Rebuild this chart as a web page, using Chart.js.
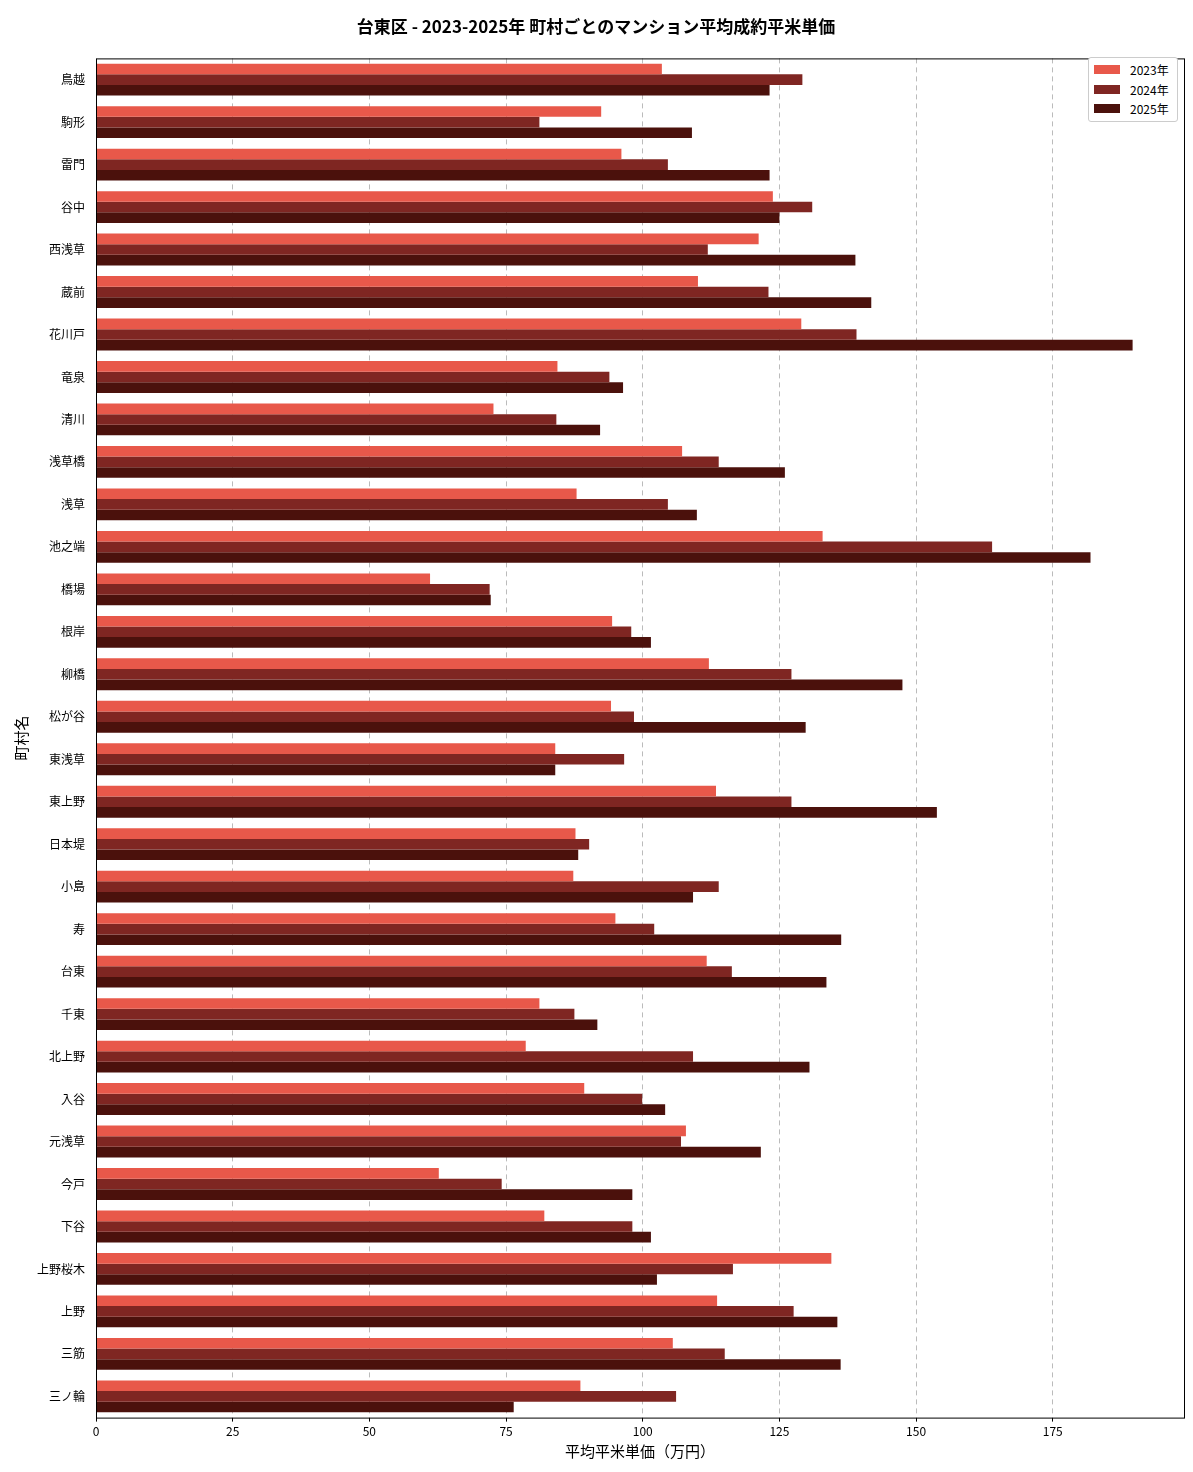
<!DOCTYPE html>
<html><head><meta charset="utf-8">
<script src="https://cdn.jsdelivr.net/npm/chart.js@4/dist/chart.umd.min.js"></script>
<style>
body{margin:0;background:#fff;font-family:"Noto Sans CJK JP",sans-serif}
#wrap{position:relative;width:1193px;height:1472px}
#legend{position:absolute;left:1088px;top:57px;width:88px;border:1px solid #ccc;border-radius:3px;background:#fff;font-size:12px;padding:2px 0}
#legend div{display:flex;align-items:center;height:19.5px;padding-left:5px}
#legend span{display:inline-block;width:26px;height:9px;margin-right:10px}
</style></head><body>
<div id="wrap"><canvas id="c" width="1193" height="1472"></canvas>
<div id="legend"></div></div>
<script>
const towns = ['鳥越','駒形','雷門','谷中','西浅草','蔵前','花川戸','竜泉','清川','浅草橋','浅草','池之端','橋場','根岸','柳橋','松が谷','東浅草','東上野','日本堤','小島','寿','台東','千東','北上野','入谷','元浅草','今戸','下谷','上野桜木','上野','三筋','三ノ輪'];
const y2023 = [103.5,92.4,96.1,123.8,121.2,110.1,129.0,84.4,72.7,107.2,87.9,132.9,61.1,94.4,112.1,94.2,84.0,113.4,87.7,87.3,95.0,111.7,81.1,78.6,89.3,107.9,62.7,82.0,134.5,113.6,105.5,88.6];
const y2024 = [129.2,81.1,104.6,131.0,111.9,123.0,139.1,93.9,84.2,113.9,104.6,163.9,72.0,97.9,127.2,98.4,96.6,127.2,90.2,113.9,102.1,116.3,87.5,109.2,99.9,107.0,74.2,98.1,116.5,127.6,115.0,106.1];
const y2025 = [123.2,109.0,123.2,125.0,138.9,141.8,189.6,96.4,92.2,126.0,109.9,181.9,72.2,101.5,147.5,129.8,84.0,153.8,88.2,109.2,136.3,133.6,91.7,130.5,104.1,121.6,98.1,101.5,102.6,135.6,136.2,76.4];
const seriesLabels = ['2023年','2024年','2025年'];
const colors = ['#e8584a','#7f2622','#4b110c'];

document.getElementById('legend').innerHTML = seriesLabels.map((l,i)=>`<div><span style="background:${colors[i]}"></span>${l}</div>`).join('');

const font = {family:'"Noto Sans CJK JP", sans-serif', size:12};
const frame = {id:'frame', afterDraw(c){const a=c.chartArea,x=c.ctx;x.save();x.strokeStyle='#000';x.lineWidth=1;x.strokeRect(a.left+0.5,a.top+0.5,a.right-a.left,a.bottom-a.top);x.restore();}};

new Chart(document.getElementById('c'), {
  type:'bar',
  data:{labels:towns, datasets:[y2023,y2024,y2025].map((d,i)=>({label:seriesLabels[i],data:d,backgroundColor:colors[i],borderWidth:0,barPercentage:1,categoryPercentage:0.75}))},
  options:{
    indexAxis:'y', responsive:false, animation:false,
    layout:{padding:{top:10,right:9,bottom:8,left:8}},
    plugins:{legend:{display:false},
      title:{display:true,text:'台東区 - 2023-2025年 町村ごとのマンション平均成約平米単価',font:{family:font.family,size:17},color:'#000',padding:{top:6,bottom:22}}},
    scales:{
      x:{min:0,max:199,
        afterBuildTicks(s){s.ticks=[0,25,50,75,100,125,150,175].map(v=>({value:v}));},
        ticks:{font,color:'#000',callback:v=>v},
        grid:{color:'#bbb',drawTicks:true,tickColor:'#000',tickLength:4},
        border:{display:false,dash:[5,4]},
        title:{display:true,text:'平均平米単価（万円）',font:{family:font.family,size:15},color:'#000',padding:{top:0}}},
      y:{ticks:{font,color:'#000',autoSkip:false},
        grid:{display:false,drawTicks:true},
        border:{display:false},
        title:{display:true,text:'町村名',font:{family:font.family,size:15},color:'#000'}}
    }
  },
  plugins:[frame]
});
</script></body></html>
